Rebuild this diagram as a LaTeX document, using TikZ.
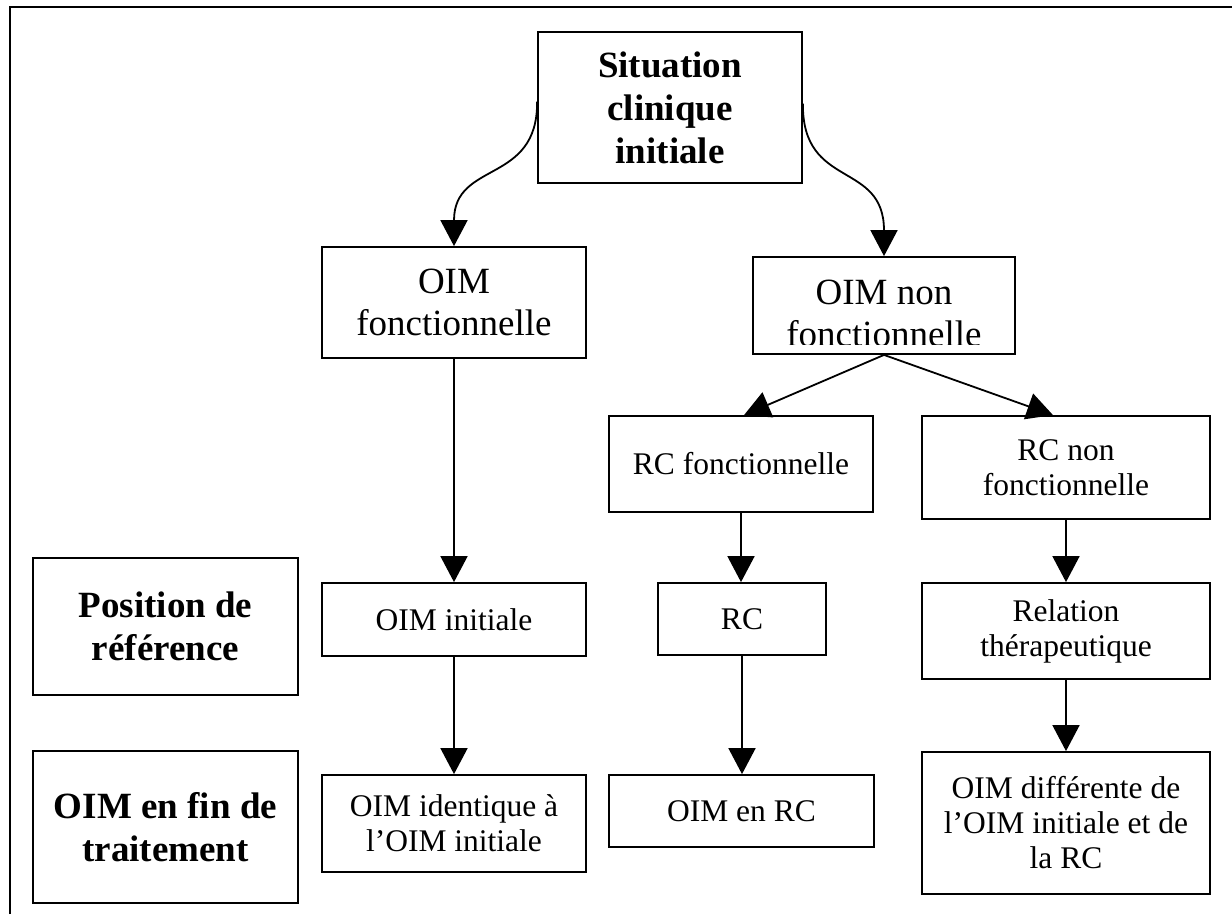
\documentclass[tikz,border=0pt]{standalone}
\usepackage{fontspec}
\setmainfont{Liberation Serif}
\usetikzlibrary{arrows.meta,calc}

\tikzset{
  box/.style={draw=black, line width=1.8pt, fill=white, inner sep=0pt, align=center, anchor=center},
  headfont/.style={font=\fontsize{37}{43}\selectfont\bfseries},
  bigfont/.style={font=\fontsize{37}{42}\selectfont},
  smallfont/.style={font=\fontsize{31.5}{35}\selectfont},
  link/.style={line width=1.8pt, -{Triangle[width=27pt,length=26pt]}},
}

\begin{document}
\begin{tikzpicture}[x=1pt,y=-1pt]
  \useasboundingbox (0,0) rectangle (1232,914);
  % outer frame (top and left edges)
  \draw[line width=2.6pt] (10,914) -- (10,7) -- (1232,7);

  % top of the tree
  \node[box, headfont, minimum width=264pt, minimum height=151pt] (sit) at (670,107.5) {Situation\\clinique\\initiale};
  \node[box, bigfont, minimum width=264pt, minimum height=111pt] (oimf) at (454,302.5) {OIM\\fonctionnelle};
  \node[box, minimum width=262pt, minimum height=97pt] (oimnf) at (884,305.5) {};
  \begin{scope}
    \clip (754,258) rectangle (1014,344);
    \node[bigfont, align=center, anchor=base] at (884,346) {OIM non\\fonctionnelle};
  \end{scope}

  % second level
  \node[box, smallfont, minimum width=264pt, minimum height=96pt] (rcf) at (741,464) {RC fonctionnelle};
  \node[box, smallfont, minimum width=288pt, minimum height=103pt] (rcnf) at (1066,467.5) {RC non\\fonctionnelle};

  % row: reference position
  \node[box, headfont, minimum width=265pt, minimum height=137pt] (pos) at (165.5,626.5) {Position de\\référence};
  \node[box, smallfont, minimum width=264pt, minimum height=73pt] (oimi) at (454,619.5) {OIM initiale};
  \node[box, smallfont, minimum width=168pt, minimum height=72pt] (rc) at (742,619) {RC};
  \node[box, smallfont, minimum width=288pt, minimum height=96pt] (rel) at (1066,631) {Relation\\thérapeutique};

  % row: end of treatment
  \node[box, headfont, minimum width=265pt, minimum height=152pt] (fin) at (165.5,827) {OIM en fin de\\traitement};
  \node[box, smallfont, minimum width=264pt, minimum height=97pt] (oimid) at (454,823.5) {OIM identique à\\l’OIM initiale};
  \node[box, smallfont, minimum width=265pt, minimum height=72pt] (oimrc) at (741.5,811) {OIM en RC};
  \node[box, smallfont, minimum width=288pt, minimum height=142pt] (oimdiff) at (1066,823) {OIM différente de\\l’OIM initiale et de\\la RC};

  % curved branches from the initial situation
  \draw[link] ($(sit.west)+(0,-6)$) .. controls (538,185) and (454,160) .. (oimf.north);
  \draw[link] ($(sit.east)+(0,-4)$) .. controls (802,190) and (884,160) .. (oimnf.north);

  % straight links
  \draw[link] (oimf.south) -- (oimi.north);
  \draw[link] (oimi.south) -- (oimid.north);
  \draw[link] (oimnf.south) -- ($(rcf.north)+(3,0)$);
  \draw[link] (oimnf.south) -- ($(rcnf.north)+(-13,0)$);
  \draw[link] (rcf.south) -- (rcf.south |- rc.north);
  \draw[link] (rc.south) -- (rc.south |- oimrc.north);
  \draw[link] (rcnf.south) -- (rel.north);
  \draw[link] (rel.south) -- (oimdiff.north);
\end{tikzpicture}
\end{document}
